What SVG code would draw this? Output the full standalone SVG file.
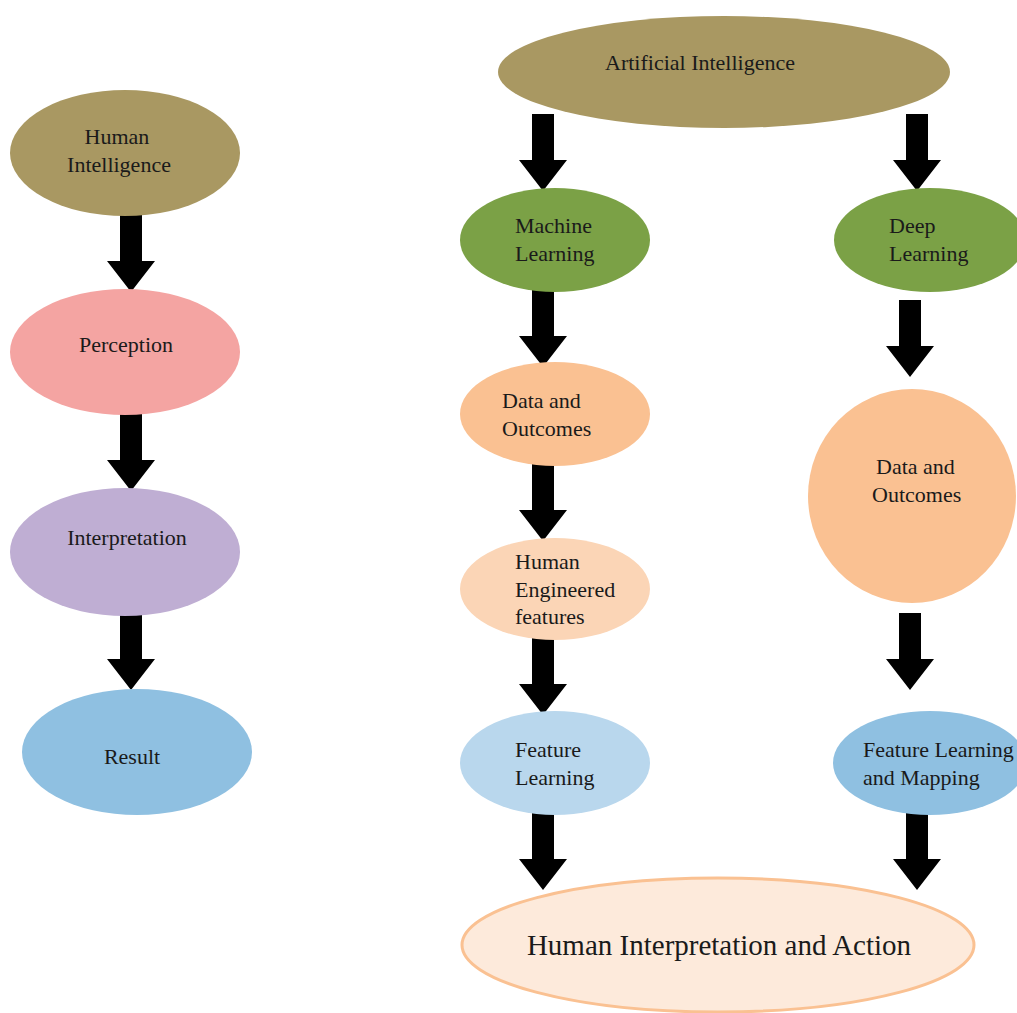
<svg xmlns="http://www.w3.org/2000/svg" width="1017" height="1013" viewBox="0 0 1017 1013">
<style>
text{font-family:"Liberation Serif","Times New Roman",serif;font-size:22px;fill:#1a1a1a}
.c{text-anchor:middle}
.arr{fill:#000}
</style>
<defs>
<polygon id="a" points="-11,0 11,0 11,46 24,46 0,77 -24,46 -11,46"/>
</defs>
<rect width="1017" height="1013" fill="#fff"/>
<g id="connectors" class="arr">
<use href="#a" x="131" y="215"/>
<use href="#a" x="131" y="414"/>
<use href="#a" x="131" y="613"/>
<use href="#a" x="543" y="114"/>
<use href="#a" x="917" y="114"/>
<use href="#a" x="543" y="290"/>
<use href="#a" x="543" y="464"/>
<use href="#a" x="543" y="638"/>
<use href="#a" x="543" y="813"/>
<use href="#a" x="910" y="300"/>
<use href="#a" x="910" y="613"/>
<use href="#a" x="917" y="813"/>
</g>
<g id="human-intelligence"><ellipse cx="125" cy="153" rx="115" ry="63" fill="#a99862"/><text class="c" x="117" y="144">Human</text><text class="c" x="119" y="172">Intelligence</text></g>
<g id="perception"><ellipse cx="125" cy="352" rx="115" ry="63" fill="#f4a4a2"/><text class="c" x="126" y="352">Perception</text></g>
<g id="interpretation"><ellipse cx="125" cy="552" rx="115" ry="64" fill="#bfaed3"/><text class="c" x="127" y="545">Interpretation</text></g>
<g id="result"><ellipse cx="137" cy="752" rx="115" ry="63" fill="#8fc0e1"/><text class="c" x="132" y="764">Result</text></g>
<g id="ai"><ellipse cx="724" cy="72" rx="226" ry="56" fill="#a99862"/><text class="c" x="700" y="70">Artificial Intelligence</text></g>
<g id="ml"><ellipse cx="555" cy="240" rx="95" ry="52" fill="#7ba146"/><text x="515" y="233">Machine</text><text x="515" y="261">Learning</text></g>
<g id="dl"><ellipse cx="930" cy="240" rx="96" ry="52" fill="#7ba146"/><text x="889" y="233">Deep</text><text x="889" y="261">Learning</text></g>
<g id="data-outcomes-ml"><ellipse cx="555" cy="414" rx="95" ry="52" fill="#fac192"/><text x="502" y="408">Data and</text><text x="502" y="436">Outcomes</text></g>
<g id="human-engineered"><ellipse cx="555" cy="589" rx="95" ry="51" fill="#fbd5b6"/><text x="515" y="569">Human</text><text x="515" y="597">Engineered</text><text x="515" y="624">features</text></g>
<g id="feature-learning"><ellipse cx="555" cy="763" rx="95" ry="52" fill="#b9d7ed"/><text x="515" y="757">Feature</text><text x="515" y="785">Learning</text></g>
<g id="data-outcomes-dl"><ellipse cx="912" cy="496" rx="104" ry="107" fill="#fac192"/><text x="876" y="474">Data and</text><text x="872" y="502">Outcomes</text></g>
<g id="feature-mapping"><ellipse cx="930" cy="763" rx="97" ry="52" fill="#8fc0e1"/><text x="863" y="757">Feature Learning</text><text x="863" y="785">and Mapping</text></g>
<g id="human-action"><ellipse cx="718" cy="945" rx="256" ry="67" fill="#fdeadb" stroke="#fac192" stroke-width="3"/><text class="c" x="719" y="955" style="font-size:29px">Human Interpretation and Action</text></g>
</svg>
